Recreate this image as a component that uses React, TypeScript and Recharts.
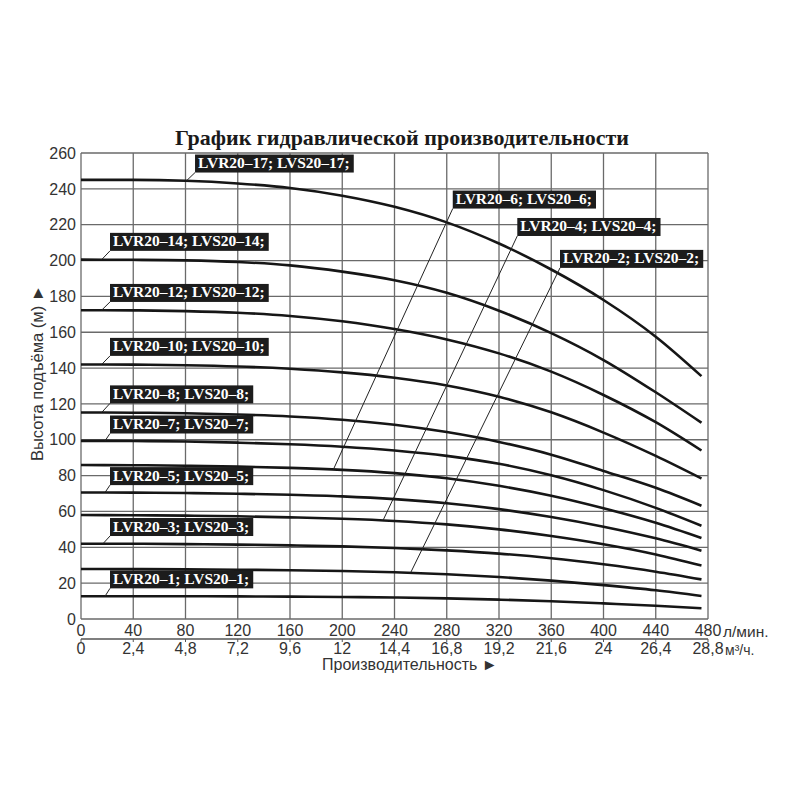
import React, { useLayoutEffect, useRef, useState } from 'react';
import { LineChart, Line, XAxis, YAxis, CartesianGrid, ReferenceLine, ReferenceDot } from 'recharts';

// Flow, l/min
const flow = [0, 40, 80, 120, 160, 200, 240, 280, 320, 360, 400, 440, 475];

// Head (m) per model
const head17 = [245, 245, 244.5, 243, 240.5, 236.2, 230, 221.3, 209.5, 195, 178, 157.5, 135.5];
const head14 = [200.5, 200.4, 200.1, 199.2, 197.3, 193.8, 189, 182, 172, 159.5, 144.5, 126.5, 109.5];
const head12 = [172.3, 172.2, 171.8, 170.9, 169.1, 166.1, 161.8, 156, 148.2, 138, 125, 109.8, 94];
const head10 = [142, 141.9, 141.6, 140.9, 139.6, 137.6, 134.6, 130.3, 124, 115.3, 104, 91, 78.4];
const head8 = [115.2, 115.1, 114.8, 114.1, 113, 111.2, 108.4, 104.3, 98.8, 91.7, 82.6, 73.2, 63.2];
const head7 = [99.4, 99.3, 99, 98.4, 97.5, 96.1, 94, 91, 86.6, 80.2, 71.9, 62, 52];
const head6 = [85.9, 85.8, 85.5, 85, 84.3, 83.2, 81.4, 78.5, 74.3, 68.8, 61.8, 53.7, 45.2];
const head5 = [70.6, 70.5, 70.3, 69.9, 69.3, 68.4, 66.9, 64.6, 61.3, 56.9, 51.5, 45, 38.1];
const head4 = [58, 57.9, 57.7, 57.3, 56.7, 55.9, 54.7, 52.8, 50, 46.3, 41.7, 36, 29.8];
const head3 = [42, 42, 41.8, 41.5, 41.1, 40.5, 39.6, 38.3, 36.5, 33.9, 30.5, 26.4, 22.1];
const head2 = [27.9, 27.9, 27.7, 27.5, 27.2, 26.8, 26.1, 25, 23.4, 21.4, 18.9, 16, 12.8];
const head1 = [12.7, 12.7, 12.7, 12.6, 12.5, 12.3, 12, 11.5, 10.8, 9.9, 8.7, 7.4, 6];

const seriesList = [
  { key: 'n17', values: head17 },
  { key: 'n14', values: head14 },
  { key: 'n12', values: head12 },
  { key: 'n10', values: head10 },
  { key: 'n8', values: head8 },
  { key: 'n7', values: head7 },
  { key: 'n6', values: head6 },
  { key: 'n5', values: head5 },
  { key: 'n4', values: head4 },
  { key: 'n3', values: head3 },
  { key: 'n2', values: head2 },
  { key: 'n1', values: head1 },
];

const xTicks = [0, 40, 80, 120, 160, 200, 240, 280, 320, 360, 400, 440, 480];
const m3TickLabels = ['0', '2,4', '4,8', '7,2', '9,6', '12', '14,4', '16,8', '19,2', '21,6', '24', '26,4', '28,8'];
const yTicks = [0, 20, 40, 60, 80, 100, 120, 140, 160, 180, 200, 220, 240, 260];

// Model tags: box anchor (bottom-left) and leader start on the curve, in data units
const tagTexts = [
  'LVR20–17; LVS20–17;',
  'LVR20–14; LVS20–14;',
  'LVR20–12; LVS20–12;',
  'LVR20–10; LVS20–10;',
  'LVR20–8; LVS20–8;',
  'LVR20–7; LVS20–7;',
  'LVR20–5; LVS20–5;',
  'LVR20–3; LVS20–3;',
  'LVR20–1; LVS20–1;',
  'LVR20–6; LVS20–6;',
  'LVR20–4; LVS20–4;',
  'LVR20–2; LVS20–2;',
];
const tagBoxX = [87.3, 22.2, 22.2, 22.2, 22.2, 22.2, 22.2, 22.2, 22.2, 284.6, 334, 366.7];
const tagBoxY = [249.1, 205.4, 176.9, 146.8, 120.3, 103.5, 74.7, 46.3, 17.1, 229, 213.7, 195.9];
const tagCurveX = [80.9, 15.8, 15.8, 15.8, 15.8, 18.4, 18.4, 16.8, 18.4, 193.2, 231.4, 252.6];
const tagCurveY = [244.6, 200.5, 172.3, 142, 115.2, 99.4, 70.6, 42, 12.7, 83.4, 55.3, 26.2];

const data = flow.map((f, i) => {
  const row: Record<string, number> = { flow: f };
  seriesList.forEach((s) => {
    row[s.key] = s.values[i];
  });
  return row;
});

function BoxTag({ viewBox, text }: { viewBox?: any; text: string }) {
  const ref = useRef<SVGTextElement>(null);
  const [w, setW] = useState(text.length * 7.5);
  useLayoutEffect(() => {
    if (ref.current) setW(ref.current.getComputedTextLength());
  }, [text]);
  const x = viewBox?.x ?? 0;
  const y = viewBox?.y ?? 0;
  const h = 18;
  return (
    <g>
      <rect x={x} y={y - h} width={w + 7} height={h} fill="#1c1c1c" />
      <text
        ref={ref}
        x={x + 3}
        y={y - 4.5}
        fill="#ffffff"
        fontFamily="'Liberation Serif', 'Times New Roman', serif"
        fontWeight="bold"
        fontSize={15.5}
      >
        {text}
      </text>
    </g>
  );
}

const tickFont = { fontSize: 16, fill: '#333', fontFamily: "'Liberation Sans', Arial, sans-serif" };

export default function App() {
  return (
    <div style={{ position: 'absolute', left: 0, top: 0, width: 800, height: 800, background: '#fff' }}>
      <LineChart
        width={800}
        height={800}
        data={data}
        margin={{ top: 153, right: 92, left: 0, bottom: 131 }}
      >
        <CartesianGrid stroke="#6a6a6a" strokeWidth={1.3} />
        <XAxis
          xAxisId={0}
          type="number"
          dataKey="flow"
          domain={[0, 480]}
          ticks={xTicks}
          interval={0}
          height={20}
          axisLine={false}
          tickLine={false}
          tickSize={4}
          tickMargin={2}
          tick={tickFont}
        />
        <XAxis
          xAxisId="m3"
          type="number"
          dataKey="flow"
          domain={[0, 480]}
          ticks={xTicks}
          interval={0}
          height={30}
          axisLine={{ stroke: '#555', strokeWidth: 1.5 }}
          tickLine={{ stroke: '#555' }}
          tickSize={3}
          tickMargin={1}
          tick={tickFont}
          tickFormatter={(v: number) => m3TickLabels[xTicks.indexOf(v)] ?? ''}
        />
        <YAxis
          type="number"
          domain={[0, 260]}
          ticks={yTicks}
          interval={0}
          width={81}
          axisLine={false}
          tickLine={false}
          tickSize={3}
          tickMargin={2}
          tick={tickFont}
        />
        {seriesList.map((s) => (
          <Line
            key={s.key}
            type="monotone"
            dataKey={s.key}
            stroke="#161616"
            strokeWidth={2.6}
            dot={false}
            activeDot={false}
            isAnimationActive={false}
          />
        ))}
        {tagTexts.map((t, i) => (
          <ReferenceLine
            key={'ld' + i}
            segment={[
              { x: tagCurveX[i], y: tagCurveY[i] },
              { x: tagBoxX[i], y: tagBoxY[i] },
            ]}
            stroke="#222"
            strokeWidth={1}
            ifOverflow="visible"
          />
        ))}
        {tagTexts.map((t, i) => (
          <ReferenceDot
            key={'tg' + i}
            x={tagBoxX[i]}
            y={tagBoxY[i]}
            r={0}
            stroke="none"
            fill="none"
            ifOverflow="visible"
            label={(p: any) => <BoxTag viewBox={p.viewBox} text={t} />}
          />
        ))}
      </LineChart>
      <svg
        width={800}
        height={800}
        style={{ position: 'absolute', left: 0, top: 0, pointerEvents: 'none' }}
      >
        <text
          x={402}
          y={145}
          textAnchor="middle"
          fontFamily="'Liberation Serif', 'Times New Roman', serif"
          fontWeight="bold"
          fontSize={22}
          fill="#1a1a1a"
        >
          График гидравлической производительности
        </text>
        <text
          transform="translate(43,373) rotate(-90)"
          textAnchor="middle"
          fontFamily="'Liberation Sans', Arial, sans-serif"
          fontSize={16.5}
          fill="#333"
        >
          Высота подъёма (м) ►
        </text>
        <text x={723} y={637} fontFamily="'Liberation Sans', Arial, sans-serif" fontSize={15.5} fill="#333">
          л/мин.
        </text>
        <text x={725} y={655} fontFamily="'Liberation Sans', Arial, sans-serif" fontSize={14} fill="#333">
          м³/ч.
        </text>
        <text x={322} y={670} fontFamily="'Liberation Sans', Arial, sans-serif" fontSize={16} fill="#333">
          Производительность ►
        </text>
      </svg>
    </div>
  );
}
